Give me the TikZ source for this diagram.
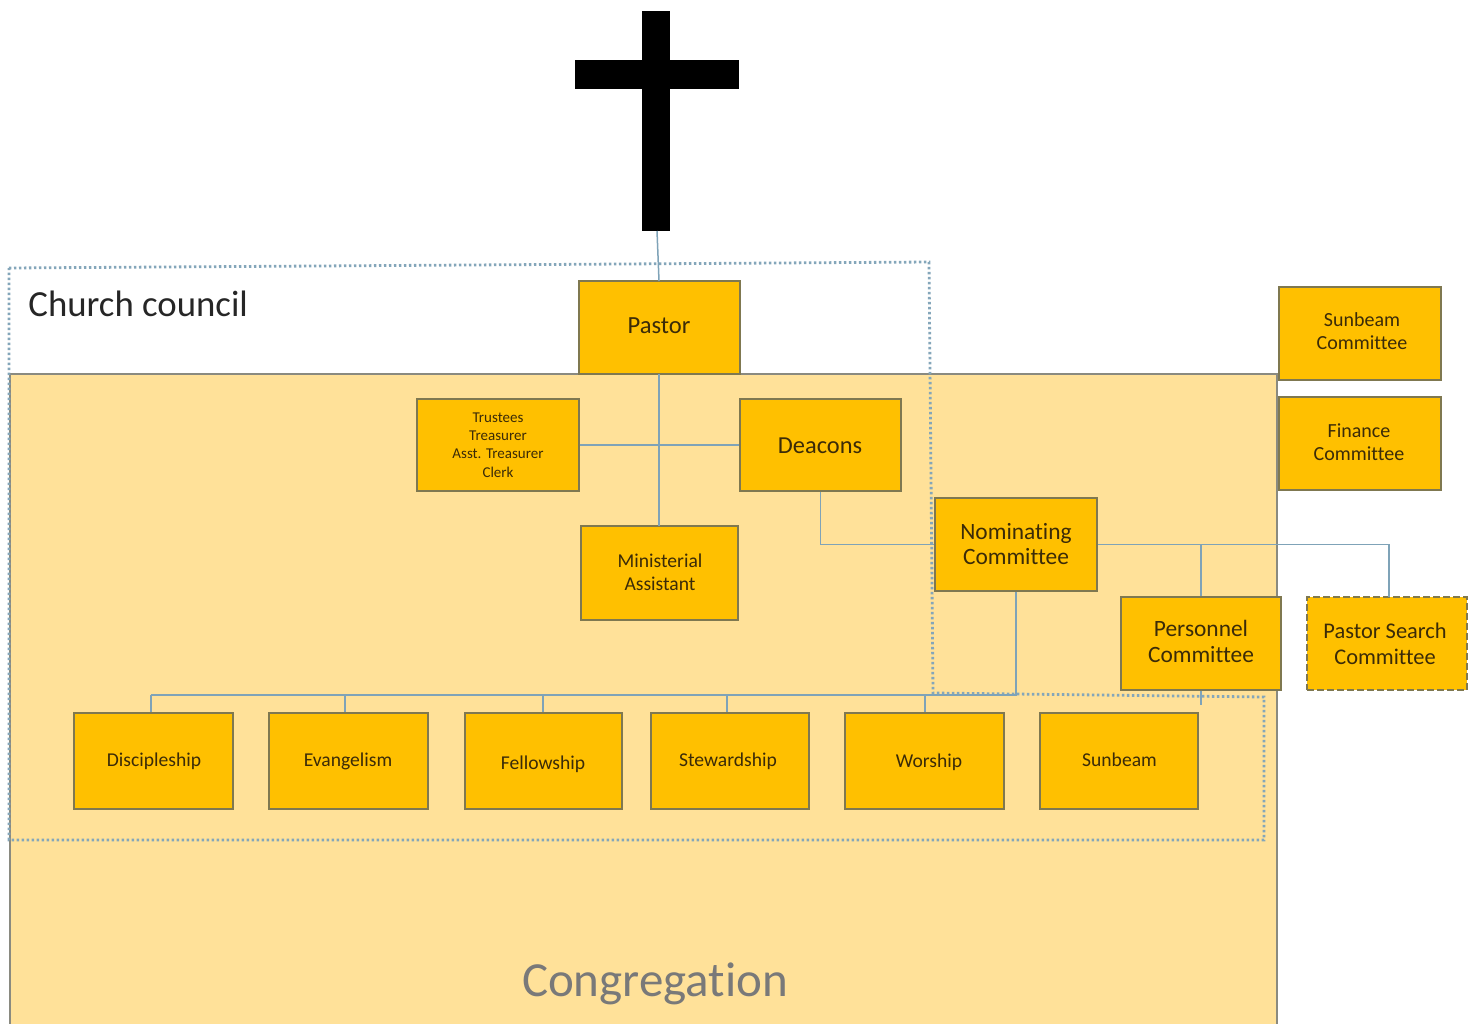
\documentclass[tikz,border=0pt]{standalone}
\usepackage{fontspec}
\setmainfont[Ligatures=NoCommon]{Carlito}
\definecolor{amber}{HTML}{FFC000}
\definecolor{paleamber}{HTML}{FFE199}
\definecolor{edge}{HTML}{7F7850}
\definecolor{link}{HTML}{7FA3B8}
\definecolor{dots}{HTML}{84A6BA}
\definecolor{ink}{HTML}{3B2B08}
\definecolor{fieldedge}{HTML}{8A8A80}
\tikzset{
  x=0.5pt,y=-0.5pt,
  orgbox/.style={draw=edge,fill=amber,line width=0.55pt,inner sep=0pt},
  orglabel/.style 2 args={text=ink,align=center,inner sep=0pt,font=\fontsize{#1}{#2}\selectfont},
  conn/.style={draw=link,line width=0.75pt},
  field/.style={draw=fieldedge,fill=paleamber,line width=0.6pt},
  council/.style={draw=dots,line width=1.4pt,dash pattern=on 1.2pt off 1.3pt},
  crossbar/.style={fill=black,draw=none,inner sep=0pt},
  searchedge/.style={line width=0.7pt,dash pattern=on 3.5pt off 1.5pt}
}
% box style, name, x1,y1,x2,y2
\newcommand{\bx}[6][]{%
  \node[orgbox,#1,minimum width=#5*0.5pt-#3*0.5pt,minimum height=#6*0.5pt-#4*0.5pt]
    (#2) at ({(#3+#5)/2},{(#4+#6)/2}) {};}
\begin{document}
\begin{tikzpicture}
\useasboundingbox (0,0) rectangle (1475,1023);
% congregation field
\path[field] (10,1030) -- (10,374) -- (1277,374) -- (1277,1030);
\node[inner sep=0pt,text=gray!95!black,font=\fontsize{24.5}{24.5}\selectfont] (cong) at (655,984) {Congregation};
% church council outline
\draw[council] (9,268) -- (929,262) -- (933,693) -- (1264,697) -- (1264,840) -- (9,840) -- cycle;
\node[inner sep=0pt,anchor=west,text=black!85,font=\fontsize{18.4}{18.4}\selectfont] (cc) at (28,304) {Church council};
% cross
\node[crossbar,minimum width=14pt,minimum height=110pt] (crossv) at (656,121) {};
\node[crossbar,minimum width=82pt,minimum height=14.5pt] (crossh) at (657,74.5) {};
% junctions
\coordinate (busR) at (1017,695);
\coordinate (busL) at (151,695);
\coordinate (searchTop) at (1389,597);
\coordinate (tail) at (1201,705);
\coordinate (crossFoot) at (657,231);
\coordinate (pastorFoot) at (659,374);
\coordinate (pastorTop) at (659,281);
\coordinate (ministTop) at (659,526);
\coordinate (d2) at (345,695);
\coordinate (d3) at (543,695);
\coordinate (d4) at (727,695);
\coordinate (d5) at (925,695);
% boxes
\bx{pastor}{579}{281}{740}{374}
\bx{trustees}{417}{399}{579}{491}
\bx{deacons}{740}{399}{901}{491}
\bx{minist}{581}{526}{738}{620}
\bx{nomin}{935}{498}{1097}{591}
\bx{person}{1121}{597}{1281}{690}
\bx[searchedge]{search}{1307}{597}{1467}{690}
\bx{sbcom}{1279}{287}{1441}{380}
\bx{fincom}{1279}{397}{1441}{490}
\bx{disc}{74}{713}{233}{809}
\bx{evan}{269}{713}{428}{809}
\bx{fell}{465}{713}{622}{809}
\bx{stew}{651}{713}{809}{809}
\bx{wors}{845}{713}{1004}{809}
\bx{sunb}{1040}{713}{1198}{809}
% labels
\node[orglabel={12.3}{14}] (pastorT) at (659,326) {Pastor};
\node[orglabel={7.5}{9.1}] (trusteesT) at (498,445) {Trustees\\Treasurer\\Asst. Treasurer\\Clerk};
\node[orglabel={12.2}{14}] (deaconsT) at (820,446) {Deacons};
\node[orglabel={9.8}{11.5}] (ministT) at (660,572.5) {Ministerial\\Assistant};
\node[orglabel={11.7}{12.8}] (nominT) at (1016,544) {Nominating\\Committee};
\node[orglabel={11.7}{13}] (personT) at (1201,641.5) {Personnel\\Committee};
\node[orglabel={11.2}{13}] (searchT) at (1385,643.5) {Pastor Search\\Committee};
\node[orglabel={10}{11.5}] (sbcomT) at (1362,331) {Sunbeam\\Committee};
\node[orglabel={10}{11.5}] (fincomT) at (1359,442.5) {Finance\\Committee};
\node[orglabel={9.8}{11}] (discT) at (154,761) {Discipleship};
\node[orglabel={9.8}{11}] (evanT) at (348,761) {Evangelism};
\node[orglabel={9.8}{11}] (fellT) at (543,764) {Fellowship};
\node[orglabel={9.8}{11}] (stewT) at (728,761) {Stewardship};
\node[orglabel={9.8}{11}] (worsT) at (929,762) {Worship};
\node[orglabel={9.8}{11}] (sunbT) at (1119.5,760) {Sunbeam};
% connectors
\draw[conn] (crossFoot) -- (pastorTop);
\draw[conn] (pastorFoot) -- (ministTop);
\draw[conn] (trustees.east) -- (deacons.west);
\draw[conn] (deacons.south) |- (nomin.west);
\draw[conn] (nomin.east) -| (searchTop);
\draw[conn] (person.north) -- (person.north |- nomin.east);
\draw[conn] (person.south) -- (tail);
\draw[conn] (nomin.south) -- (nomin.south |- busR);
\draw[conn] (busL) -- (busR);
\draw[conn] (busL) -- (busL |- disc.north);
\draw[conn] (d2) -- (d2 |- evan.north);
\draw[conn] (d3) -- (d3 |- fell.north);
\draw[conn] (d4) -- (d4 |- stew.north);
\draw[conn] (d5) -- (d5 |- wors.north);
\end{tikzpicture}
\end{document}
